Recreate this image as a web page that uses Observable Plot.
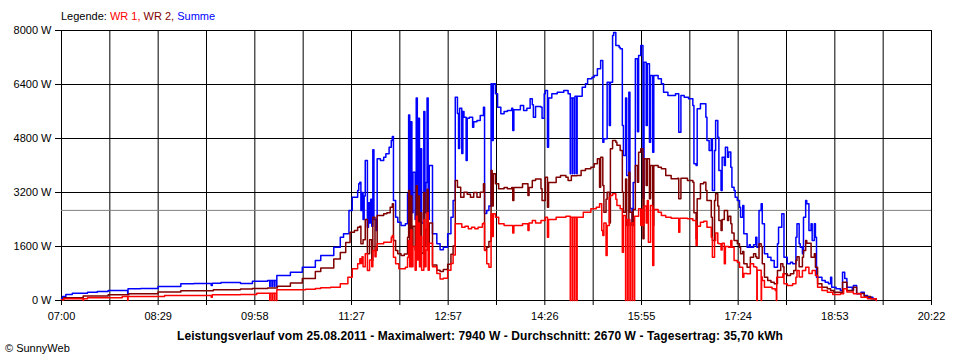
<!DOCTYPE html>
<html><head><meta charset="utf-8">
<script src="https://cdn.jsdelivr.net/npm/d3@7"></script>
<script src="https://cdn.jsdelivr.net/npm/@observablehq/plot@0.6"></script>
<style>
html,body{margin:0;padding:0;background:#fff;}
#page{position:relative;width:960px;height:360px;overflow:hidden;background:#fff;font-family:"Liberation Sans",Arial,sans-serif;color:#000;}
#legend{position:absolute;left:61px;top:10px;font-size:11px;line-height:13px;white-space:nowrap;}
#chart{position:absolute;left:0;top:23px;}
#title{position:absolute;left:0;width:960px;top:330px;text-align:center;font-size:12px;letter-spacing:0.1px;font-weight:bold;line-height:13px;white-space:nowrap;}
#copy{position:absolute;left:5px;top:342px;font-size:11px;line-height:13px;white-space:nowrap;}
</style></head>
<body><div id="page">
<div id="legend"></div>
<div id="chart"></div>
<div id="title"></div>
<div id="copy"></div>
</div>
<script>
// ---- tick labels / scale ----
const xTickLabels = ["07:00","08:29","09:58","11:27","12:57","14:26","15:55","17:24","18:53","20:22"];
const yTicks = [0,1600,3200,4800,6400,8000];
const average = 2670;
const seriesNames = ["WR 1","WR 2","Summe"];
const seriesColors = ["#ff0000","#800000","#0000ff"];
const titleText = "Leistungsverlauf vom 25.08.2011 - Maximalwert: 7940 W - Durchschnitt: 2670 W - Tagesertrag: 35,70 kWh";
const copyText = "\u00A9 SunnyWeb";

// ---- Summe ----
const sumTimes = ["07:00","07:01","07:04","07:10","07:24","07:33","07:43","08:01","08:01:20","08:13","08:29","08:50","09:02","09:18","09:19","09:27","09:45","09:56","10:10","10:12","10:12:20","10:14","10:14:20","10:16","10:16:20","10:18","10:18:30","10:31","10:42","10:54","10:59","11:11","11:17","11:20","11:25","11:28","11:33","11:34","11:35","11:36","11:37","11:38","11:39","11:40","11:42","11:43","11:44","11:45","11:46","11:47","11:48","11:50","11:51","11:54","11:57","11:59","12:02","12:04","12:05","12:06","12:08","12:10","12:13","12:17","12:19","12:20","12:21","12:22","12:23","12:24","12:26","12:27","12:28","12:29","12:30","12:31","12:32","12:34","12:35","12:36","12:37","12:38","12:39","12:42","12:46","12:49","12:52","12:56","12:59","13:01","13:03","13:05","13:06","13:07","13:09","13:10","13:11","13:13","13:14","13:16","13:19","13:20","13:23","13:26","13:29","13:30","13:32","13:34","13:36","13:37","13:38","13:40","13:42","13:45","13:48","13:51","13:55","13:56","13:57","14:03","14:06","14:09","14:12","14:14","14:15","14:17","14:22","14:23","14:25","14:26","14:28","14:29","14:32","14:37","14:43","14:47","14:49","14:49:20","14:51","14:51:20","14:53","14:53:20","14:55","14:55:20","15:00","15:03","15:05","15:09","15:11","15:14","15:17","15:19","15:20","15:23","15:25","15:26","15:28","15:29","15:31","15:34","15:35","15:37","15:38","15:40","15:41","15:43","15:44","15:46","15:47","15:49","15:51","15:52","15:54","15:56","15:57","15:59","16:00","16:02","16:03","16:05","16:06","16:10","16:13","16:15","16:19","16:23","16:26","16:29","16:31","16:34","16:38","16:42","16:43","16:45","16:46","16:49","16:54","16:55","16:57","16:59","17:00","17:02","17:03","17:05","17:06","17:08","17:09","17:11","17:12","17:14","17:15","17:17","17:18","17:20","17:21","17:23","17:25","17:26","17:28","17:29","17:32","17:34","17:35","17:38","17:40","17:41","17:43","17:45","17:46","17:48","17:51","17:54","17:57","18:00","18:01","18:04","18:06","18:09","18:12","18:14","18:17","18:18","18:20","18:21","18:23","18:24","18:26","18:27","18:29","18:31","18:32","18:34","18:35","18:36","18:41","18:44","18:47","18:49","18:50","18:54","18:58","19:00","19:02","19:04","19:09","19:10","19:13","19:17","19:20","19:23","19:28","19:31"];
const sumValues = [59,119,178,216,246,267,296,178,347,356,415,495,504,444,513,533,504,572,593,415,593,415,593,415,593,415,741,838,987,1185,1333,1580,1876,1976,2667,3061,3259,3457,3505,2667,3200,2400,3100,4148,2172,2900,2300,3000,2200,4465,2400,2074,4198,4148,4246,4346,4543,4741,4859,2963,2468,2320,2222,2273,3161,5500,2800,5300,2600,3800,2400,6000,3000,5400,2500,4500,2300,5600,2600,3500,6000,2400,4000,1976,1680,1502,1580,1976,2468,2963,6024,5541,4504,5700,4356,5600,5431,4148,5400,5431,5135,5300,5333,5481,5727,2578,2667,2800,6421,4741,6421,6125,5727,5531,5600,5630,5700,5037,5650,5778,5630,5700,5976,5800,5431,5750,5727,5400,6125,6222,4543,6000,6125,6172,6222,6125,3754,6000,3754,6000,3754,6050,3754,6050,6320,6421,6569,6617,6667,6865,7111,4690,4790,6468,5185,6468,7852,7940,7556,7506,7458,5185,4296,6000,3704,6172,2726,2222,3500,7161,5000,7259,7556,3022,7061,5185,7013,4690,6667,4394,6667,6569,6421,6172,6074,6074,6125,4987,6074,6024,5976,5778,4050,4000,5680,5828,5431,4741,4444,4790,3259,4444,5333,4839,3852,3259,4246,4000,4543,4246,4400,3950,3357,3259,3061,2963,2765,2468,2815,1976,1580,1650,1580,1650,1876,1580,2667,2870,2272,1383,1284,1185,987,1680,2172,2568,1284,1087,1135,1087,1876,2272,1680,1580,1383,2468,2963,2865,2074,2272,1778,2272,1876,690,593,542,495,690,394,347,296,838,652,394,296,444,198,246,148,98,50,0];

// ---- WR 2 ----
const wr2Times = ["07:00","07:02","07:20","07:43","08:02","08:29","08:50","09:20","09:45","09:56","10:10","10:19","10:31","10:42","10:54","10:59","11:11","11:17","11:22","11:26","11:30","11:33","11:35","11:36","11:38","11:40","11:42","11:44","11:46","11:47","11:49","11:51","11:54","11:57","12:00","12:03","12:05","12:06","12:08","12:10","12:13","12:16","12:19","12:20","12:21","12:22","12:23","12:24","12:26","12:27","12:28","12:29","12:30","12:31","12:32","12:34","12:35","12:36","12:37","12:38","12:39","12:42","12:46","12:49","12:52","12:56","12:59","13:01","13:03","13:05","13:08","13:11","13:14","13:17","13:20","13:23","13:26","13:29","13:30","13:32","13:34","13:36","13:37","13:38","13:40","13:43","13:48","13:51","13:55","13:56","13:57","14:05","14:10","14:11","14:14","14:17","14:22","14:23","14:26","14:28","14:29","14:36","14:40","14:45","14:47","14:50","14:55","14:59","15:03","15:08","15:11","15:14","15:16","15:17","15:19","15:20","15:22","15:23","15:25","15:26","15:28","15:31","15:32","15:35","15:37","15:38","15:40","15:41","15:43","15:44","15:46","15:47","15:49","15:51","15:52","15:54","15:56","15:57","15:59","16:00","16:02","16:03","16:05","16:06","16:10","16:13","16:17","16:22","16:28","16:29","16:31","16:37","16:42","16:43","16:45","16:46","16:49","16:52","16:54","16:55","16:59","17:00","17:02","17:03","17:05","17:06","17:08","17:09","17:11","17:14","17:15","17:17","17:18","17:20","17:23","17:25","17:26","17:28","17:29","17:32","17:35","17:38","17:40","17:41","17:43","17:45","17:46","17:48","17:51","17:54","17:57","18:00","18:03","18:05","18:06","18:09","18:12","18:15","18:17","18:18","18:20","18:23","18:24","18:26","18:27","18:31","18:34","18:35","18:37","18:41","18:46","18:49","18:52","18:58","19:00","19:04","19:10","19:13","19:20","19:26","19:31"];
const wr2Values = [21,80,130,170,200,250,290,320,340,355,370,420,520,650,860,960,1230,1420,1720,2024,2074,2172,2200,1680,1800,2400,1383,1800,1185,2468,1481,2519,2519,2568,2600,2765,2865,1778,1481,1383,1333,1380,1876,3259,1700,3100,1600,2200,1500,3400,1800,3100,1500,2600,1400,3200,1600,2100,3300,1500,2300,1050,900,860,920,1076,1368,1613,3556,3357,3061,3209,3150,3061,3200,3061,3209,3457,1500,1580,1750,3852,2800,3753,3457,3309,3350,3309,3350,2963,3350,3457,3111,3350,3556,3600,3309,2963,3654,2765,3500,3654,3704,3654,3556,3700,3704,3852,3902,3950,4050,4198,3357,4246,3407,2617,3000,3209,2300,4500,4741,4691,4600,4444,3209,2617,3600,2222,3800,2617,2222,2700,4000,3505,4394,4494,1828,4198,3407,4198,3013,4000,2222,4000,3950,3902,3704,3605,3624,3013,3624,3556,3505,2600,1828,3013,3457,3505,3259,2963,2468,1778,2963,3161,2800,2370,2074,2400,2667,2370,2500,2273,2000,1778,1680,1580,1383,1450,1087,987,1284,1383,1300,1250,1680,1600,1087,690,593,542,495,889,1087,1000,790,741,790,889,1185,1300,1000,1284,1481,1778,1700,1284,1383,987,495,394,347,296,246,246,542,296,394,207,119,50,0];

// ---- WR 1 ----
const wr1Times = ["07:00","07:02","07:20","07:20:20","07:24","07:56","08:01","08:01:20","08:35","09:18","09:19","09:45","10:00","10:12","10:12:20","10:14","10:14:20","10:16","10:16:20","10:18","10:18:30","10:45","10:54","10:59","11:08","11:17","11:24","11:28","11:33","11:35","11:36","11:37","11:38","11:40","11:42","11:44","11:46","11:47","11:49","11:50","11:51","11:57","12:04","12:05","12:06","12:08","12:11","12:17","12:19","12:20","12:21","12:22","12:23","12:24","12:26","12:27","12:28","12:29","12:30","12:31","12:32","12:34","12:35","12:36","12:37","12:38","12:39","12:42","12:46","12:49","12:52","12:56","12:59","13:01","13:03","13:09","13:12","13:15","13:18","13:21","13:24","13:28","13:29","13:30","13:32","13:34","13:36","13:37","13:38","13:40","13:43","13:48","13:56","13:57","14:05","14:10","14:11","14:14","14:17","14:22","14:26","14:28","14:29","14:36","14:45","14:49","14:49:20","14:51","14:51:20","14:53","14:53:20","14:55","14:55:20","15:01","15:08","15:13","15:16","15:18","15:19","15:20","15:22","15:23","15:25","15:26","15:28","15:31","15:32","15:35","15:37","15:38","15:40","15:40:20","15:42","15:42:20","15:44","15:44:20","15:46","15:46:20","15:48","15:48:20","15:52","15:54","15:55","15:56","15:57","15:59","16:00","16:01","16:03","16:05","16:06","16:10","16:13","16:17","16:22","16:29","16:30","16:37","16:42","16:45","16:46","16:49","16:52","16:55","16:59","17:00","17:02","17:03","17:05","17:06","17:08","17:09","17:11","17:12","17:15","17:17","17:18","17:20","17:23","17:25","17:28","17:29","17:32","17:35","17:38","17:40","17:41","17:41:20","17:45","17:45:20","17:46","17:48","17:55","17:58","17:59","17:59:20","18:05","18:06","18:09","18:14","18:17","18:18","18:20","18:23","18:26","18:29","18:32","18:35","18:37","18:41","18:46","18:51","18:58","19:01","19:04","19:10","19:17","19:23","19:31"];
const wr1Values = [21,50,0,50,80,119,0,119,150,100,170,180,216,0,216,0,216,0,216,0,317,330,355,376,394,495,690,939,1087,1234,1100,1300,1000,1383,889,1200,1000,1481,1300,1580,1680,1728,1876,1926,1284,1087,939,987,1284,1778,1000,2100,1000,1600,900,2500,1200,2300,1000,1900,900,2400,1000,1500,2600,900,1700,1000,800,640,660,900,1100,1350,2272,2172,2200,2123,2172,2123,2172,2272,2300,1481,1087,987,2568,1900,2568,2469,2272,2222,2000,2222,2272,2074,2300,2370,2300,2370,2469,1876,2400,2469,2500,0,2469,0,2469,0,2469,0,2469,2617,2716,2765,2865,2074,1926,2300,1333,2222,3061,3111,3160,3000,2815,2716,1432,2519,0,2400,0,2400,0,2300,0,2300,0,2500,2716,2222,2700,2222,2800,2300,2963,1728,2815,1037,2700,2617,2519,2469,2440,2024,2440,2420,2370,1630,2200,2320,2350,2172,1876,1284,1778,2000,1700,1680,1500,1700,1087,1600,1580,1778,1580,1185,1136,987,690,800,790,1087,1000,987,0,900,0,700,593,394,347,296,0,690,790,500,444,495,690,889,700,889,987,800,889,741,394,296,246,178,198,347,250,198,98,50,0];

// ---- build ----
const toMin = s => { const [h, m, sec = 0] = s.split(":").map(Number); return h * 60 + m + sec / 60; };
const rows = (times, values) => times.map((t, i) => ({t: toMin(t), v: values[i]}));
const wr1 = rows(wr1Times, wr1Values);
const wr2 = rows(wr2Times, wr2Values);
const sum = rows(sumTimes, sumValues);

const x0 = toMin(xTickLabels[0]), x1 = toMin(xTickLabels[xTickLabels.length - 1]);
const nMajor = xTickLabels.length - 1;
const gridTicks = d3.range(nMajor * 2 + 1).map(i => x0 + i * (x1 - x0) / (nMajor * 2));
const labelOf = new Map(gridTicks.map((d, i) => [d, i % 2 === 0 ? xTickLabels[i / 2] : ""]));

const lineOpts = (color) => ({x: "t", y: "v", stroke: color, curve: "step-after", strokeWidth: 1.5});

const chart = Plot.plot({
  width: 960, height: 305,
  marginLeft: 61, marginRight: 29, marginTop: 7, marginBottom: 28,
  x: {domain: [x0, x1], label: null},
  y: {domain: [0, yTicks[yTicks.length - 1]], label: null},
  style: {fontFamily: "'Liberation Sans', Arial, sans-serif", fontSize: "11px", color: "#000", background: "#fff", overflow: "visible"},
  marks: [
    Plot.gridX(gridTicks, {stroke: "#000", strokeOpacity: 1, strokeWidth: 1}),
    Plot.gridY(yTicks, {stroke: "#000", strokeOpacity: 1, strokeWidth: 1}),
    Plot.ruleY([average], {stroke: "#808080", strokeWidth: 1}),
    Plot.line(sum, lineOpts(seriesColors[2])),
    Plot.line(wr2, lineOpts(seriesColors[1])),
    Plot.line(wr1, lineOpts(seriesColors[0])),
    Plot.axisX(gridTicks, {tickSize: 5, tickPadding: 7, tickFormat: d => labelOf.get(d) ?? ""}),
    Plot.axisY(yTicks, {tickSize: 6, tickPadding: 4, tickFormat: d => `${d} W`})
  ]
});
document.getElementById("chart").appendChild(chart);

// legend
const leg = document.getElementById("legend");
leg.append("Legende: ");
seriesNames.forEach((n, i) => {
  const s = document.createElement("span");
  s.style.color = seriesColors[i];
  s.textContent = n + (i < seriesNames.length - 1 ? "," : "");
  leg.append(s);
  if (i < seriesNames.length - 1) leg.append(" ");
});
document.getElementById("title").textContent = titleText;
document.getElementById("copy").textContent = copyText;
</script>
</body></html>
